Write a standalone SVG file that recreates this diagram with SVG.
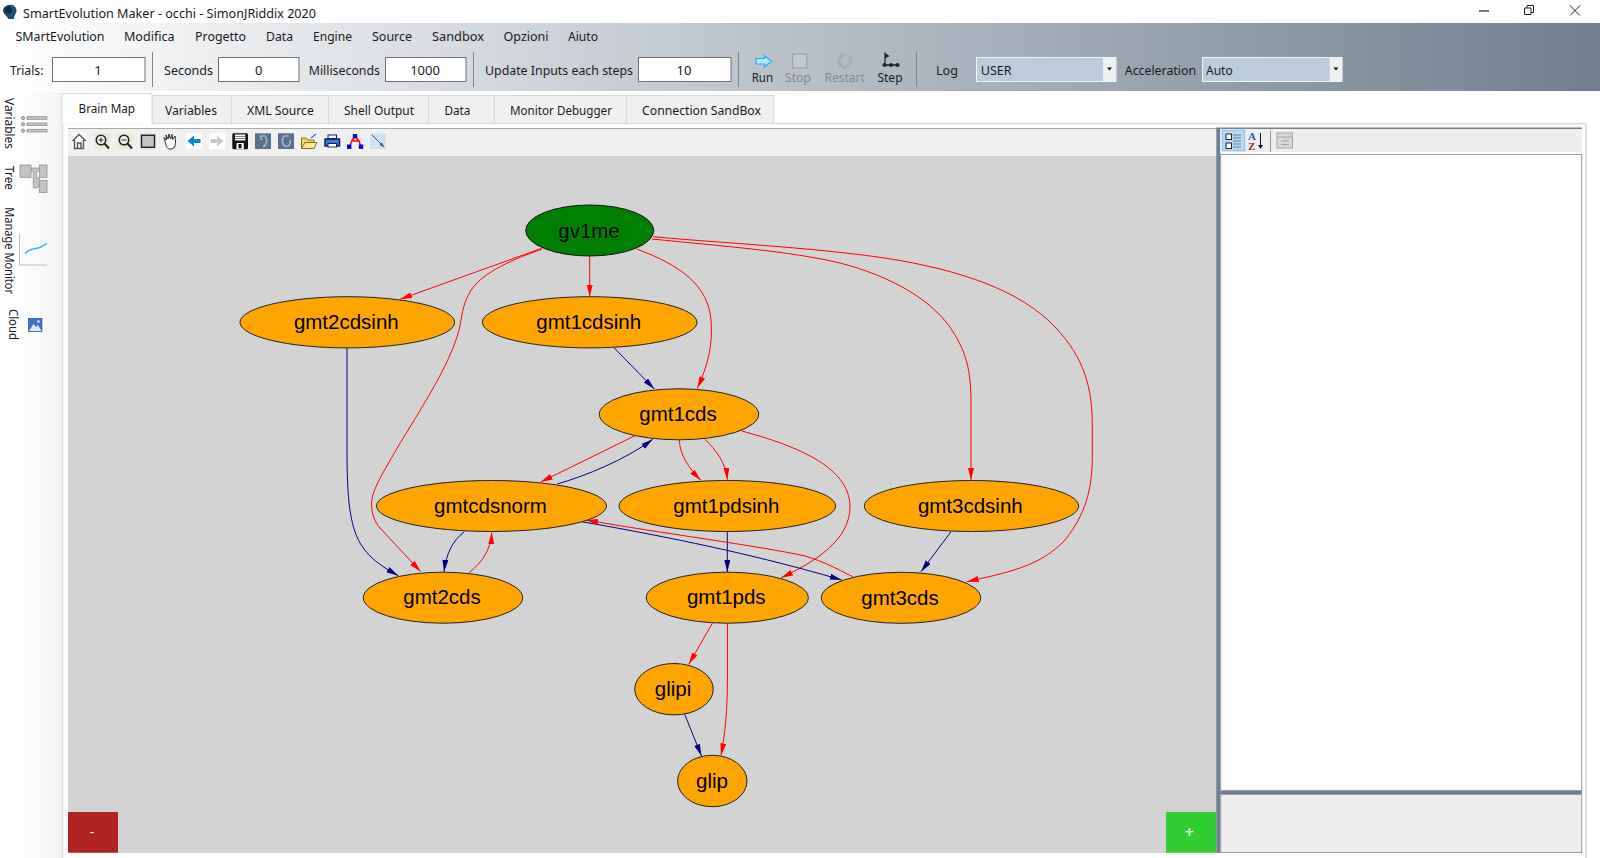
<svg xmlns="http://www.w3.org/2000/svg" width="1600" height="858" viewBox="0 0 1600 858">
<style>
text{font-family:"Noto Sans","Open Sans","DejaVu Sans",sans-serif;fill:#1a1a1a}
.ui{font-size:13px}
.tab{font-size:12px}
.dis{fill:#8a8a8a}
.val{text-anchor:middle;font-size:13px}
.nt{font-family:"Liberation Sans",Arial,sans-serif;font-size:20.5px;text-anchor:middle;fill:#000}
.n{fill:#ffa500;stroke:#222;stroke-width:1}
.r{fill:none;stroke:#f00;stroke-width:1}
.b{fill:none;stroke:#000080;stroke-width:1}
.inp{fill:#fff;stroke:#707070;stroke-width:1}
.sep{stroke:#7d8791;stroke-width:1}
.tb{fill:#f0f0f0;stroke:#d9d9d9;stroke-width:1}
.ic{fill:#c4c4c4;stroke:#929292;stroke-width:.8}
</style>
<defs>
<linearGradient id="hdr" x1="0" x2="1" y1="0" y2="0"><stop offset="0" stop-color="#fff"/><stop offset="1" stop-color="#708090"/></linearGradient>
<linearGradient id="side" x1="0" x2="1" y1="0" y2="0"><stop offset="0" stop-color="#fff"/><stop offset="0.3" stop-color="#fff"/><stop offset="1" stop-color="#f2f3f3"/></linearGradient>
<marker id="ar" markerUnits="userSpaceOnUse" markerWidth="13" markerHeight="8" refX="12" refY="3" orient="auto"><path d="M0,0 L12,3 L0,6 Z" fill="#f00"/></marker>
<marker id="ab" markerUnits="userSpaceOnUse" markerWidth="13" markerHeight="8" refX="12" refY="3" orient="auto"><path d="M0,0 L12,3 L0,6 Z" fill="#000080"/></marker>
</defs>
<rect width="1600" height="858" fill="#fff"/>

<!-- title bar -->
<path d="M6,6 C9,3.5 16.5,4.5 16.5,10.5 C16.5,14 14,15 14,19 L8,19 C8,16 3,14.5 3,10.5 C3,8.5 4,7 6,6 Z" fill="#1f4e79"/>
<circle cx="8.5" cy="10" r="3.5" fill="#16283c"/>
<text x="23" y="17.5" class="ui" textLength="293" lengthAdjust="spacingAndGlyphs">SmartEvolution Maker - occhi - SimonJRiddix 2020</text>
<path d="M1479,11 H1489" stroke="#222" stroke-width="1.2"/>
<path d="M1524.5,8 H1531 V14.5 H1524.5 Z M1527,8 V5.5 H1533.5 V12.5 H1531" fill="none" stroke="#222" stroke-width="1"/>
<path d="M1570,5.5 L1580,15.5 M1580,5.5 L1570,15.5" stroke="#222" stroke-width="1"/>

<!-- header -->
<rect x="0" y="23" width="1600" height="68" fill="url(#hdr)"/>
<g class="ui">
<text x="15.5" y="40.7" textLength="89" lengthAdjust="spacingAndGlyphs">SMartEvolution</text>
<text x="124" y="40.7" textLength="50.5" lengthAdjust="spacingAndGlyphs">Modifica</text>
<text x="195" y="40.7" textLength="51" lengthAdjust="spacingAndGlyphs">Progetto</text>
<text x="266" y="40.7" textLength="27" lengthAdjust="spacingAndGlyphs">Data</text>
<text x="313" y="40.7" textLength="39" lengthAdjust="spacingAndGlyphs">Engine</text>
<text x="372" y="40.7" textLength="40" lengthAdjust="spacingAndGlyphs">Source</text>
<text x="432" y="40.7" textLength="52" lengthAdjust="spacingAndGlyphs">Sandbox</text>
<text x="503.6" y="40.7" textLength="45" lengthAdjust="spacingAndGlyphs">Opzioni</text>
<text x="568" y="40.7" textLength="30" lengthAdjust="spacingAndGlyphs">Aiuto</text>
<text x="10" y="74.7" textLength="33.4" lengthAdjust="spacingAndGlyphs">Trials:</text>
<text x="164" y="74.7" textLength="49" lengthAdjust="spacingAndGlyphs">Seconds</text>
<text x="308.7" y="74.7" textLength="71.3" lengthAdjust="spacingAndGlyphs">Milliseconds</text>
<text x="485" y="74.7" textLength="148" lengthAdjust="spacingAndGlyphs">Update Inputs each steps</text>
<text x="751.7" y="81.7" textLength="21.3" lengthAdjust="spacingAndGlyphs">Run</text>
<text x="785" y="81.7" class="dis" textLength="26" lengthAdjust="spacingAndGlyphs">Stop</text>
<text x="824.6" y="81.7" class="dis" textLength="40.2" lengthAdjust="spacingAndGlyphs">Restart</text>
<text x="877.4" y="81.7" textLength="25.2" lengthAdjust="spacingAndGlyphs">Step</text>
<text x="936" y="74.7" textLength="22" lengthAdjust="spacingAndGlyphs">Log</text>
<text x="1124.8" y="74.7" textLength="71.2" lengthAdjust="spacingAndGlyphs">Acceleration</text>
</g>
<rect class="inp" x="52.5" y="57.5" width="92.5" height="24"/>
<rect class="inp" x="218.5" y="57.5" width="80.5" height="24"/>
<rect class="inp" x="385.5" y="57.5" width="80.5" height="24"/>
<rect class="inp" x="638.5" y="57.5" width="92.5" height="24"/>
<text x="98" y="74.5" class="val">1</text>
<text x="258.7" y="74.5" class="val">0</text>
<text x="425" y="74.5" class="val">1000</text>
<text x="684" y="74.5" class="val">10</text>
<path class="sep" d="M152.5,52 V87 M473.5,52 V87 M738.5,52 V87 M916.5,52 V87"/>
<!-- run buttons -->
<path d="M756,58.5 H764.5 V56 L771.5,61.3 L764.5,66.7 V64 H756 Z" fill="#b5e6fc" stroke="#19b2f0" stroke-width="1.2"/>
<rect x="792.7" y="54" width="14" height="14" fill="#c4c8cc" stroke="#a2a8ae" stroke-width="1.5"/>
<path d="M842,56 A6,6 0 1 0 849,57" fill="none" stroke="#a8adb2" stroke-width="3"/>
<path d="M840,52 L846,55.5 L841,59 Z" fill="#a8adb2"/>
<path d="M885,52.5 V64" stroke="#222" stroke-width="1.2"/><path d="M885,53 L889.5,56 L885,58.5 Z" fill="#222"/>
<path d="M883,65 H899" stroke="#222" stroke-width="1.6"/>
<circle cx="884.5" cy="65" r="2" fill="#222"/><circle cx="891" cy="65" r="2" fill="#222"/><circle cx="897.5" cy="65" r="2" fill="#222"/>
<!-- combos -->
<rect x="976.5" y="57.5" width="139.5" height="24" fill="#bdccdb" stroke="#f2f4f6"/>
<rect x="1103" y="58" width="13" height="23" fill="#eef1f4"/>
<path d="M1107,67.5 H1112 L1109.5,70.5 Z" fill="#111"/>
<text x="980.7" y="74.7" class="ui" textLength="31" lengthAdjust="spacingAndGlyphs">USER</text>
<rect x="1202.5" y="57.5" width="139.5" height="24" fill="#bdccdb" stroke="#f2f4f6"/>
<rect x="1329.7" y="58" width="12.5" height="23" fill="#eef1f4"/>
<path d="M1333.5,67.5 H1338.5 L1336,70.5 Z" fill="#111"/>
<text x="1206" y="74.7" class="ui" textLength="26.7" lengthAdjust="spacingAndGlyphs">Auto</text>

<!-- side strip -->
<rect x="0" y="92" width="62" height="766" fill="url(#side)"/>
<text transform="translate(5,98) rotate(90)" style="font-size:12px" textLength="51" lengthAdjust="spacingAndGlyphs">Variables</text>
<text transform="translate(5,166) rotate(90)" style="font-size:12px" textLength="24" lengthAdjust="spacingAndGlyphs">Tree</text>
<text transform="translate(5,207.3) rotate(90)" style="font-size:12px" textLength="86.7" lengthAdjust="spacingAndGlyphs">Manage Monitor</text>
<text transform="translate(8.5,309) rotate(90)" style="font-size:12px" textLength="31" lengthAdjust="spacingAndGlyphs">Cloud</text>
<rect class="ic" x="27" y="116.7" width="20" height="2.6"/><rect class="ic" x="27" y="123" width="20" height="2.6"/><rect class="ic" x="27" y="129.4" width="20" height="2.6"/>
<g fill="#c4c4c4" stroke="#929292"><circle cx="23" cy="118" r="1.6"/><circle cx="23" cy="124.3" r="1.6"/><circle cx="23" cy="130.7" r="1.6"/></g>
<path class="ic" d="M31,168 H39.3 V171 H36.7 V178 H39.3 V187 H36.7 V188 H33.3 V171 H31 Z"/>
<rect class="ic" x="20" y="165" width="11" height="12.3"/>
<rect class="ic" x="39.3" y="165" width="7.7" height="12.3"/>
<rect class="ic" x="39.3" y="180.5" width="7.7" height="12"/>
<path d="M19.5,234 V265 H47" fill="none" stroke="#bbb" stroke-width="1"/>
<path d="M25,253.5 C29,249 34,249 38,248 C42,247 44,245 47,243.3" fill="none" stroke="#3db5f0" stroke-width="1.5"/>
<rect x="28.3" y="318.3" width="13.7" height="13.4" fill="#3f74c4" stroke="#22509a" stroke-width=".6"/>
<path d="M29,331 L33.5,324 L36,327 L38,325 L41.5,331 Z" fill="#dfe9f7"/>
<circle cx="38.5" cy="321.5" r="1.3" fill="#dfe9f7"/>

<!-- tabs -->
<path d="M62.5,858 V124 M62.5,123.5 H1586" stroke="#dcdcdc" stroke-width="1.5" fill="none"/>
<path d="M1586,124 V858" stroke="#dcdcdc" stroke-width="2"/>
<rect class="tb" x="152" y="95.5" width="79.6" height="28"/>
<rect class="tb" x="231.6" y="95.5" width="97" height="28"/>
<rect class="tb" x="328.6" y="95.5" width="100" height="28"/>
<rect class="tb" x="428.6" y="95.5" width="65.8" height="28"/>
<rect class="tb" x="494.4" y="95.5" width="132.1" height="28"/>
<rect class="tb" x="626.5" y="95.5" width="147.5" height="28"/>
<path d="M62,124 V93.5 H152 V124" fill="#fff" stroke="#d9d9d9"/>
<g class="tab">
<text x="78.6" y="112.7" textLength="56.4" lengthAdjust="spacingAndGlyphs">Brain Map</text>
<text x="165" y="115" textLength="52" lengthAdjust="spacingAndGlyphs">Variables</text>
<text x="247" y="115" textLength="66.8" lengthAdjust="spacingAndGlyphs">XML Source</text>
<text x="344" y="115" textLength="70" lengthAdjust="spacingAndGlyphs">Shell Output</text>
<text x="444.4" y="115" textLength="26" lengthAdjust="spacingAndGlyphs">Data</text>
<text x="510" y="115" textLength="102" lengthAdjust="spacingAndGlyphs">Monitor Debugger</text>
<text x="642" y="115" textLength="119" lengthAdjust="spacingAndGlyphs">Connection SandBox</text>
</g>

<!-- brain map toolbar and canvas -->
<rect x="68" y="128" width="1149" height="28" fill="#f0f0f0"/>
<path d="M68,128.5 H1217" stroke="#a8a8a8"/>
<rect x="68" y="156" width="1149" height="697" fill="#d3d3d3"/>
<!-- toolbar icons -->
<rect x="71.7" y="133.3" width="15" height="15.7" fill="#fafafa"/>
<path d="M72.5,141 L79,134.5 L86,141 M74.5,140 V148.5 H83.5 V140 M77.5,148.5 V143 H81 V148.5" fill="none" stroke="#555" stroke-width="1.4"/>
<rect x="94.4" y="133.3" width="15.6" height="15.7" fill="#ece8d6"/>
<circle cx="101" cy="140" r="4.7" fill="#f4f4f4" stroke="#222" stroke-width="1.6"/>
<path d="M104.5,143.5 L109,148.5" stroke="#222" stroke-width="2"/><path d="M98.5,140 H103.5 M101,137.5 V142.5" stroke="#222"/>
<rect x="116.8" y="133.3" width="16.2" height="15.7" fill="#ece8d6"/>
<circle cx="124" cy="140" r="4.7" fill="#f4f4f4" stroke="#222" stroke-width="1.6"/>
<path d="M127.5,143.5 L132,148.5" stroke="#222" stroke-width="2"/><path d="M121.5,140 H126.5" stroke="#222"/>
<rect x="140" y="133.3" width="16" height="15.7" fill="#dedede"/>
<rect x="141.5" y="135.3" width="13" height="12" fill="#c4c4c4" stroke="#222" stroke-width="1.4"/>
<path d="M165,141 L164,137.5 L166.5,140 L166,135 L168,139 L169,134 L170.5,139 L172,134.5 L172.5,139.5 L175,136 L175.5,142 C175.5,146 174,149 171,149 H169.5 C167,149 166,145 165,141 Z" fill="#fff" stroke="#222" stroke-width="1"/>
<rect x="186" y="133.3" width="16" height="15.7" fill="#fff"/>
<path d="M187.5,141 L194,135.5 V139 H200.5 V143 H194 V146.5 Z" fill="#0a7fe6"/>
<rect x="209" y="133.3" width="16" height="15.7" fill="#fff"/>
<path d="M223.5,141 L217,135.5 V139 H210.5 V143 H217 V146.5 Z" fill="#c8c8c8"/>
<rect x="232.3" y="133.3" width="15.7" height="16" rx="1.5" fill="#111"/>
<rect x="235" y="134.5" width="10.3" height="6" fill="#fff"/><path d="M235,136.5 H245 M235,138.5 H245" stroke="#333" stroke-width=".6"/><rect x="236.5" y="143" width="7.3" height="6" fill="#fff"/><rect x="238.5" y="144" width="3" height="4.3" fill="#111"/>
<rect x="255" y="133.3" width="16" height="15.7" fill="#5b6f90"/>
<path d="M260,136 H265 C268,140 267,145 263,147 M260,136 L262,140" fill="none" stroke="#a5b0c2" stroke-width="1.7"/>
<rect x="278" y="133.3" width="16" height="15.7" fill="#5b6f90"/>
<path d="M289,136 H284 C281,140 282,145 286,146.5 C289,146.5 291,144 290,140" fill="none" stroke="#a5b0c2" stroke-width="1.7"/>
<path d="M301.5,148.5 V138 H306 L308,140 H314 V148.5 Z" fill="#f5d36b" stroke="#8a6d1b"/>
<path d="M301.5,148.5 L305,142.5 H317 L314,148.5 Z" fill="#fbe79c" stroke="#8a6d1b"/>
<path d="M311,138 L316,134" stroke="#3a7bd5" stroke-width="1.5"/>
<rect x="328" y="135" width="8.5" height="3.5" fill="#fff" stroke="#10206a"/>
<path d="M325,139 H339.5 V146 H325 Z" fill="#3a78c8" stroke="#10206a" stroke-width="1.5"/>
<rect x="328" y="143.5" width="8.5" height="3.5" fill="#fff" stroke="#10206a"/>
<path d="M355,136 L351.7,141 L349.3,146.7 M355,136 L359,141 L361,146.7 M351.7,141 H359" stroke="#e00" stroke-width="1.5" fill="none"/>
<rect x="352.8" y="134" width="4.4" height="4.4" fill="#0000e0"/><rect x="347" y="144.5" width="4.4" height="4.4" fill="#0000e0"/><rect x="358.8" y="144.5" width="4.4" height="4.4" fill="#0000e0"/>
<rect x="370" y="133.3" width="16" height="15.7" fill="#cfe3f3"/>
<path d="M372,135 L384,147" stroke="#3f5f80"/><path d="M384.5,147.5 L379.5,145 L382,142.5 Z" fill="#3f5f80"/>

<rect x="68" y="812" width="50" height="40.7" fill="#b22222"/>
<text x="92" y="836.5" style="font-size:14px;fill:#fff" text-anchor="middle">-</text>
<rect x="1166" y="812" width="50" height="40.7" fill="#32cd32"/>
<text x="1189.3" y="837.5" style="font-size:16px;fill:#fff" text-anchor="middle">+</text>

<!-- right panel -->
<rect x="1216.3" y="128" width="4" height="725" fill="#708090"/>
<rect x="1216.3" y="127.5" width="365.5" height="1.5" fill="#708090"/>
<rect x="1220.3" y="129" width="361.5" height="23" fill="#eee"/>
<rect x="1222.3" y="130.3" width="22.4" height="20.4" fill="#b3d9f8" stroke="#84c4f5"/>
<g fill="#fff" stroke="#222"><rect x="1226" y="134" width="5.5" height="5.5"/><rect x="1226" y="143" width="5.5" height="5.5"/></g>
<path d="M1233,135 H1241 M1233,138 H1241 M1233,141 H1241 M1233,144 H1241 M1233,147 H1241" stroke="#667" stroke-width=".8"/>
<text x="1248" y="140" style="font-family:'Liberation Serif',serif;font-size:11px;font-weight:bold;fill:#2c55b8">A</text>
<text x="1248" y="150" style="font-family:'Liberation Serif',serif;font-size:11px;font-weight:bold;fill:#a02828">Z</text>
<path d="M1260.5,133 V147" stroke="#111"/><path d="M1258,145 H1263 L1260.5,149 Z" fill="#111"/>
<path d="M1270.5,130.5 V152" stroke="#999"/>
<rect x="1277" y="133" width="15.5" height="15" fill="#d8d8d8" stroke="#a5a5a5"/>
<path d="M1277,137 H1292.5 M1281,141 H1289 M1281,144.5 H1289" stroke="#a5a5a5"/>
<rect x="1220.7" y="154.5" width="361" height="636" fill="#fff" stroke="#9a9a9a"/>
<rect x="1220.3" y="791" width="361.5" height="3.5" fill="#708090"/>
<rect x="1220.7" y="794.5" width="361" height="58" fill="#eee" stroke="#9a9a9a"/>

<!-- connectors -->
<g id="connectors">
<path class="r" marker-end="url(#ar)" d="M541.7,248.3 L400,299.3"/>
<path class="r" marker-end="url(#ar)" d="M541.7,249.3 C505,262 480,275 470,292 C462,305 462,318 459,330 C450,365 420,410 396,450 C385,470 371,490 371.5,505 C372,515 375,522 380,528 L420.7,571.7"/>
<path class="r" marker-end="url(#ar)" d="M589.7,256 L589.7,296.7"/>
<path class="r" marker-end="url(#ar)" d="M636.7,249 C680,265 708,285 711,320 C713,345 708,365 697.3,388.3"/>
<path class="r" marker-end="url(#ar)" d="M651.7,239 C720,246 790,251 840,263 C890,276 935,300 955,335 C970,360 971,380 971,410 L971,480"/>
<path class="r" marker-end="url(#ar)" d="M653.3,236.7 C720,243 810,247 886.7,258.3 C960,270 1020,290 1055,327 C1085,358 1092.3,390 1092.3,425 L1092.3,456.7 C1092.3,490 1085,515 1065,540 C1040,567 1005,573 966.7,581.7"/>
<path class="b" marker-end="url(#ab)" d="M614.3,348 L654.3,389"/>
<path class="b" marker-end="url(#ab)" d="M347,348 L347,450 C347,500 350,525 360,543 C370,560 385,568 398.3,575.7"/>
<path class="r" marker-end="url(#ar)" d="M635,435.7 L540.7,482"/>
<path class="b" marker-end="url(#ab)" d="M557.3,484 C585,476 625,460 652.7,439.3"/>
<path class="r" marker-end="url(#ar)" d="M679.3,440 C680,455 688,467 700.7,480.3"/>
<path class="r" marker-end="url(#ar)" d="M705,439.3 C716,450 726,463 727.3,479.7"/>
<path class="r" marker-end="url(#ar)" d="M741.7,431 C790,444 850,465 850,506.7 C850,540 815,562 781,577.7"/>
<path class="b" marker-end="url(#ab)" d="M464.3,531.7 C452,541 446,555 444,571.7"/>
<path class="r" marker-end="url(#ar)" d="M469.3,572.7 C482,562 491,550 491.7,532.3"/>
<path class="b" marker-end="url(#ab)" d="M727.3,531.7 L727.3,572"/>
<path class="b" marker-end="url(#ab)" d="M581.7,521.7 C640,532 740,550 841.7,580"/>
<path class="r" marker-end="url(#ar)" d="M852.7,576.7 C835,568 825,562 805,556 C760,546 660,533 586,520"/>
<path class="b" marker-end="url(#ab)" d="M951,531.7 L921,571.7"/>
<path class="r" marker-end="url(#ar)" d="M712.3,623.3 L688.8,664.3"/>
<path class="r" marker-end="url(#ar)" d="M727.4,623.3 L727.4,680 C727.4,710 725,735 721,755.3"/>
<path class="b" marker-end="url(#ab)" d="M684.7,714.3 L701.5,756"/>
</g>

<!-- nodes -->
<g id="gv1me"><ellipse cx="589.7" cy="230.5" rx="64" ry="25.5" fill="#008000" stroke="#111"/><text class="nt" x="589" y="237.5">gv1me</text></g>
<g id="gmt2cdsinh"><ellipse class="n" cx="347.3" cy="322.3" rx="107.3" ry="25.6"/><text class="nt" x="346.3" y="329">gmt2cdsinh</text></g>
<g id="gmt1cdsinh"><ellipse class="n" cx="589.7" cy="322.3" rx="107.3" ry="25.6"/><text class="nt" x="588.7" y="329">gmt1cdsinh</text></g>
<g id="gmt1cds"><ellipse class="n" cx="679" cy="414.3" rx="79.7" ry="25.5"/><text class="nt" x="678" y="421">gmt1cds</text></g>
<g id="gmtcdsnorm"><ellipse class="n" cx="491.5" cy="506" rx="115" ry="25.5"/><text class="nt" x="490.5" y="512.7">gmtcdsnorm</text></g>
<g id="gmt1pdsinh"><ellipse class="n" cx="727.3" cy="506" rx="108.3" ry="25.5"/><text class="nt" x="726.3" y="512.7">gmt1pdsinh</text></g>
<g id="gmt3cdsinh"><ellipse class="n" cx="971.5" cy="506" rx="107.2" ry="25.5"/><text class="nt" x="970.3" y="512.7">gmt3cdsinh</text></g>
<g id="gmt2cds"><ellipse class="n" cx="443" cy="597.7" rx="79.7" ry="25.5"/><text class="nt" x="442" y="604.4">gmt2cds</text></g>
<g id="gmt1pds"><ellipse class="n" cx="727.3" cy="597.7" rx="81" ry="25.5"/><text class="nt" x="726.3" y="604.4">gmt1pds</text></g>
<g id="gmt3cds"><ellipse class="n" cx="901" cy="597.8" rx="79.7" ry="25.5"/><text class="nt" x="900" y="604.5">gmt3cds</text></g>
<g id="glipi"><ellipse class="n" cx="674" cy="689.2" rx="39.3" ry="25.7"/><text class="nt" x="673" y="696">glipi</text></g>
<g id="glip"><ellipse class="n" cx="712.3" cy="781" rx="34.7" ry="25.7"/><text class="nt" x="712" y="787.8">glip</text></g>
</svg>
